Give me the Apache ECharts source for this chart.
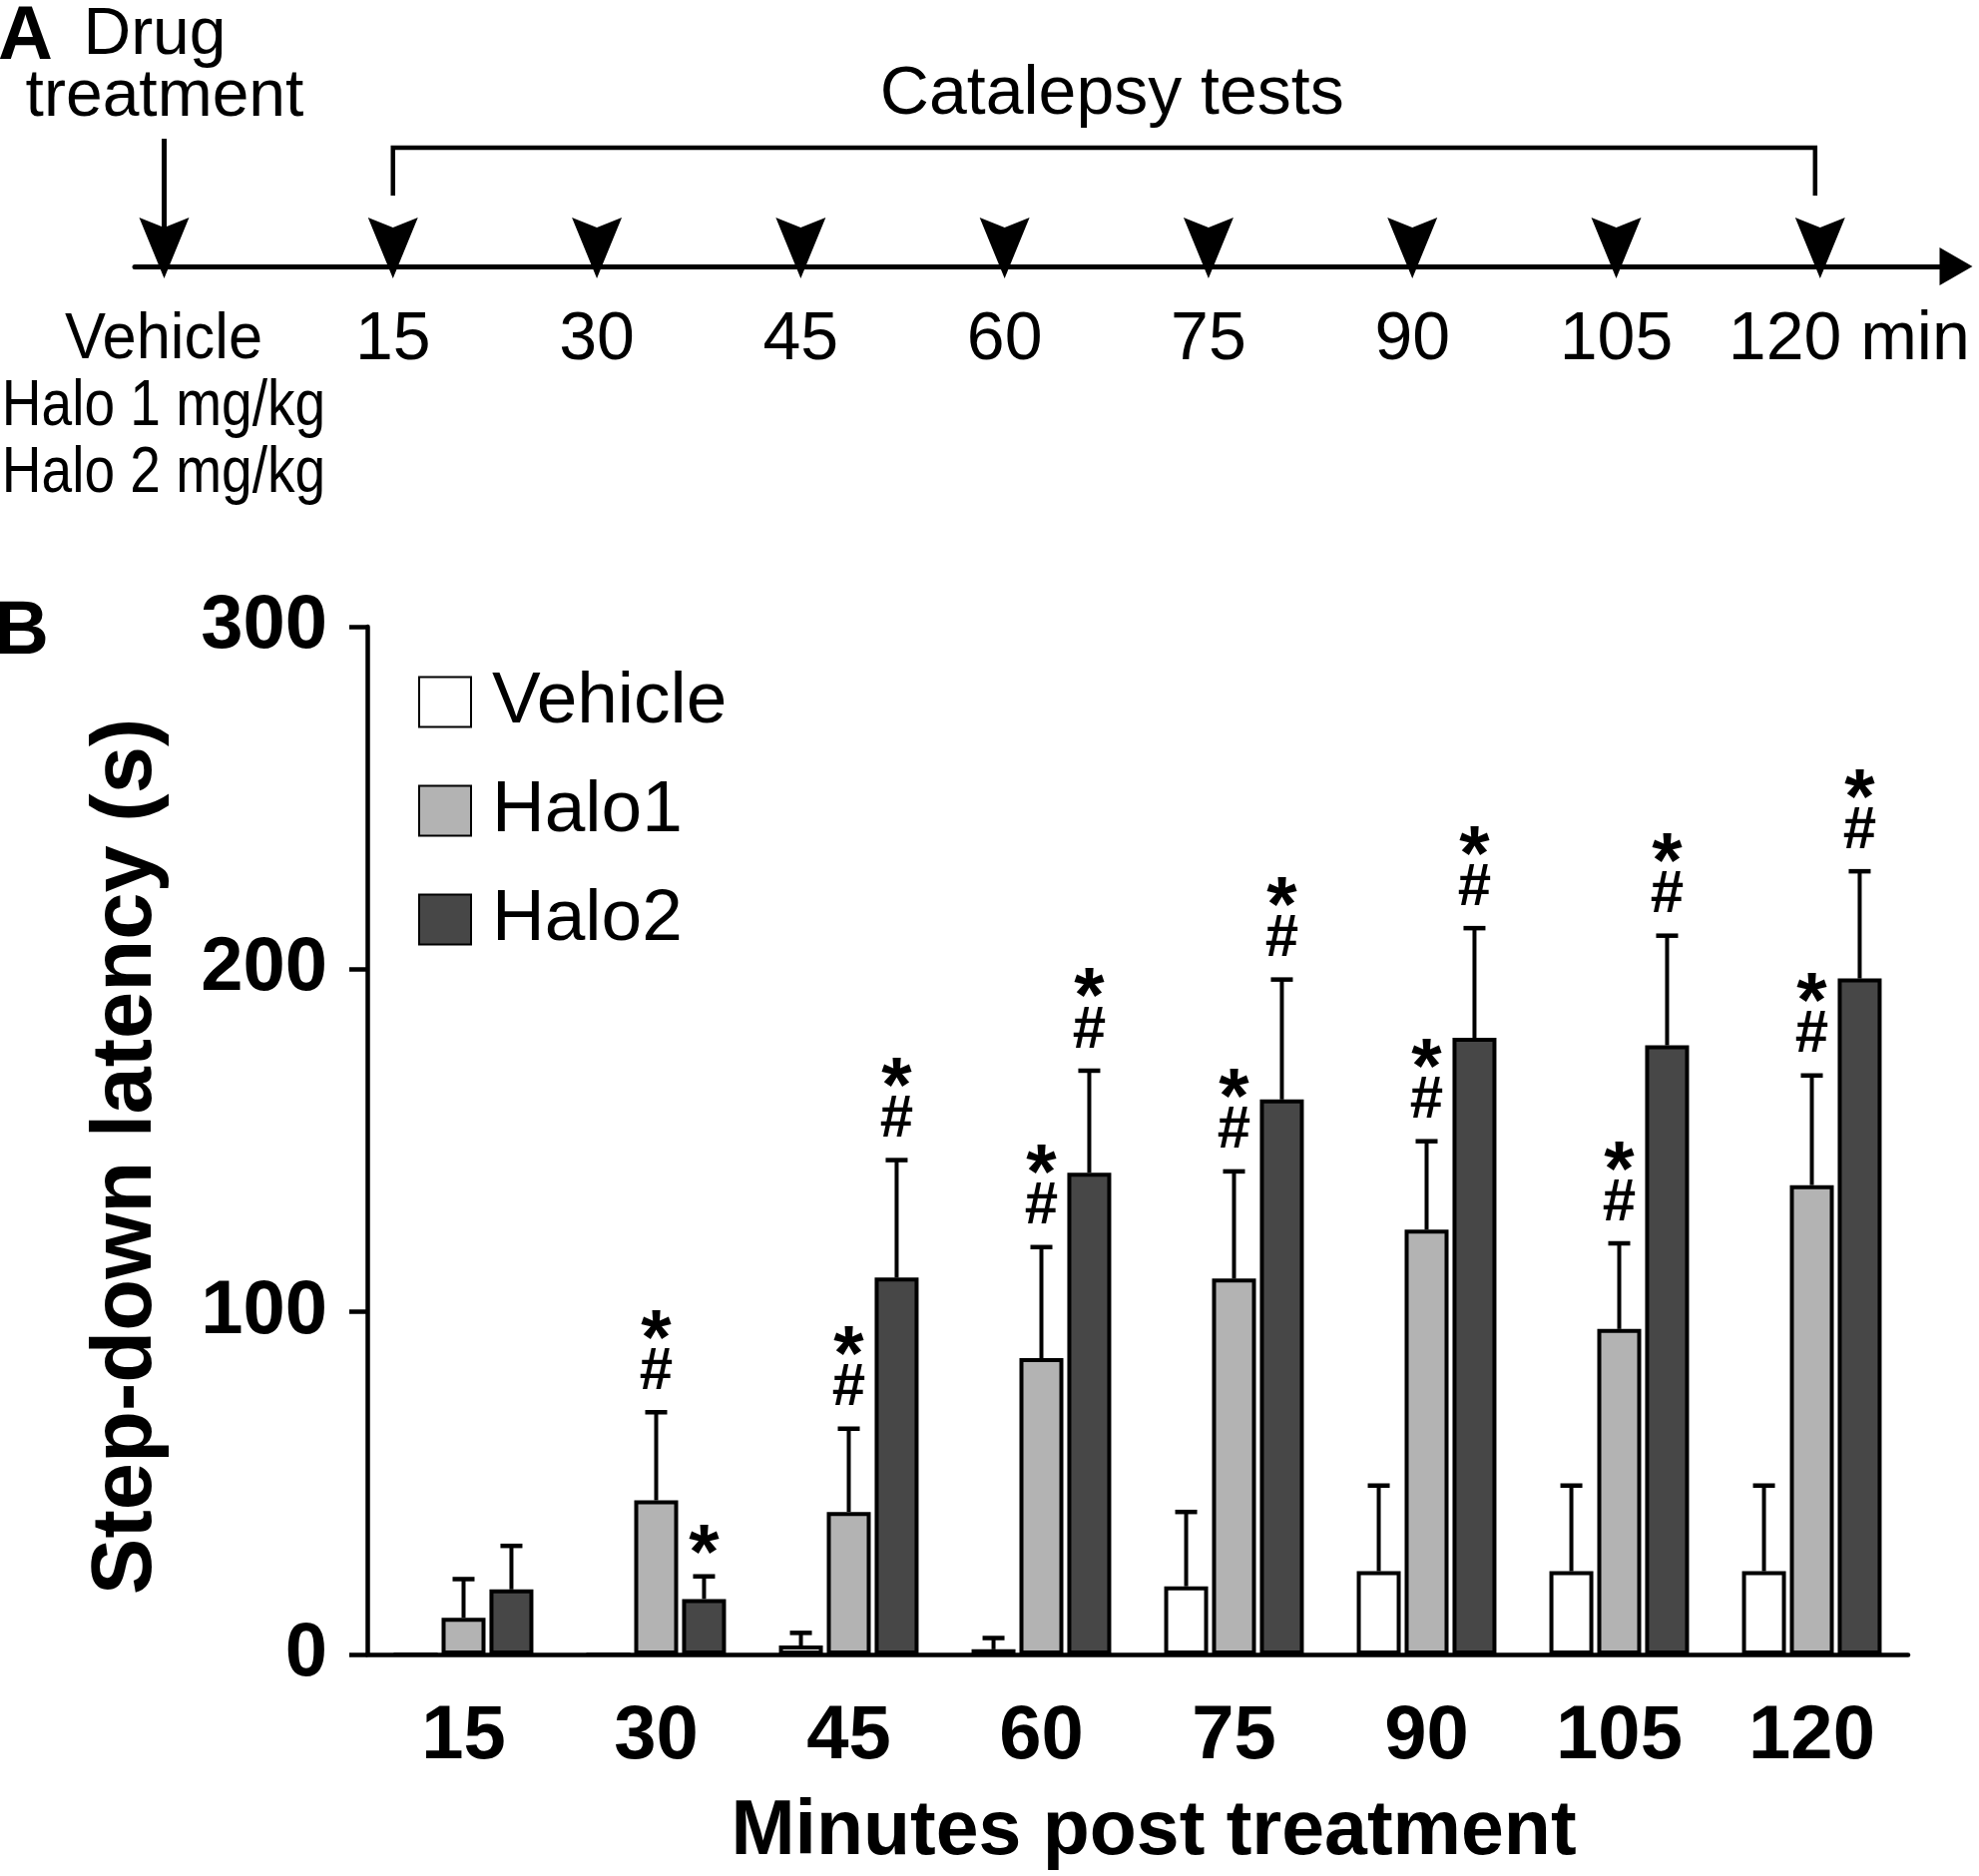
<!DOCTYPE html>
<html><head><meta charset="utf-8">
<script src="https://cdn.jsdelivr.net/npm/echarts@6/dist/echarts.min.js"></script>
<style>html,body{margin:0;padding:0;background:#fff}#c{width:1983px;height:1880px}</style>
</head><body><div id="c"></div>
<script>
// ---------- Panel B data ----------
const categories = ['15','30','45','60','75','90','105','120'];
const seriesNames = ['Vehicle','Halo1','Halo2'];
const vehicleMean = [0, 0, 2.6, 1.5, 19.9, 24.3, 24.3, 24.3];
const vehicleSem  = [0, 0, 3.7, 3.3, 21.7, 25.0, 25.0, 25.0];
const halo1Mean = [10.7, 45.0, 41.6, 86.5, 109.7, 124.0, 95.0, 137.0];
const halo1Sem  = [11.3, 25.7, 24.3, 32.4, 31.3, 25.8, 25.0, 32.0];
const halo2Mean = [19.0, 16.2, 110.0, 140.6, 162.0, 180.0, 177.8, 197.3];
const halo2Sem  = [12.7, 6.6, 34.3, 29.8, 35.0, 32.0, 32.0, 31.3];
const vehicleSig = ['', '', '', '', '', '', '', ''];
const halo1Sig = ['', '*#', '*#', '*#', '*#', '*#', '*#', '*#'];
const halo2Sig = ['', '*', '*#', '*#', '*#', '*#', '*#', '*#'];
const yMin = 0, yMax = 300, yStep = 100;

// ---------- Panel A data ----------
const testTimes = [15, 30, 45, 60, 75, 90, 105, 120];
const testLabels = ['15', '30', '45', '60', '75', '90', '105', '120 min'];
const drugTime = 0;
const groupLabels = ['Vehicle', 'Halo 1 mg/kg', 'Halo 2 mg/kg'];

// ---------- styling ----------
const FONT = "'Liberation Sans', Arial, Helvetica, sans-serif";
const colors = ['#ffffff', '#b3b3b3', '#474747'];
const BAR_W = 44, BAR_GAP = 0.09;
const STRIDE = BAR_W * (1 + BAR_GAP);
const offsets = [-STRIDE, 0, STRIDE];

const means = [vehicleMean, halo1Mean, halo2Mean];
const sems = [vehicleSem, halo1Sem, halo2Sem];
const sigs = [vehicleSig, halo1Sig, halo2Sig];

const chart = echarts.init(document.getElementById('c'), null, {renderer: 'canvas'});

const series = [];
seriesNames.forEach((name, k) => {
  series.push({
    type: 'bar', name: name, data: means[k],
    xAxisIndex: 0, yAxisIndex: 0,
    barWidth: BAR_W, barGap: (BAR_GAP * 100) + '%',
    itemStyle: {color: colors[k], borderColor: '#000', borderWidth: 4},
    z: 2
  });
});
seriesNames.forEach((name, k) => {
  series.push({
    type: 'custom', name: name + ' SEM',
    xAxisIndex: 0, yAxisIndex: 0, z: 3,
    data: categories.map((c, i) => [i, means[k][i], means[k][i] + sems[k][i]]),
    encode: {x: 0, y: [1, 2]},
    renderItem: function (params, api) {
      const i = api.value(0), m = api.value(1), t = api.value(2);
      const base = api.coord([i, m]);
      const top = api.coord([i, t]);
      const x = base[0] + offsets[k];
      const children = [];
      if (t > m) {
        children.push({type: 'line', shape: {x1: x, y1: base[1], x2: x, y2: top[1]},
          style: {stroke: '#000', lineWidth: 4}});
        children.push({type: 'line', shape: {x1: x - 11, y1: top[1], x2: x + 11, y2: top[1]},
          style: {stroke: '#000', lineWidth: 4.5}});
      }
      const s = sigs[k][params.dataIndex];
      const starFont = 'bold 78px ' + FONT;
      const hashFont = 'bold 60px ' + FONT;
      if (s.indexOf('#') >= 0) {
        children.push({type: 'text', style: {text: '#', x: x, y: top[1] - 40, font: hashFont,
          fill: '#000', align: 'center', verticalAlign: 'middle'}});
        if (s.indexOf('*') >= 0) {
          children.push({type: 'text', style: {text: '*', x: x, y: top[1] - 86 + 16, font: starFont,
            fill: '#000', align: 'center', verticalAlign: 'middle'}});
        }
      } else if (s.indexOf('*') >= 0) {
        children.push({type: 'text', style: {text: '*', x: x, y: top[1] - 35 + 16, font: starFont,
          fill: '#000', align: 'center', verticalAlign: 'middle'}});
      }
      return {type: 'group', children: children};
    }
  });
});

// Panel A: test arrowheads with labels
function arrowHead(x, y) {
  return {type: 'polygon', shape: {points: [[x - 25, y - 49], [x, y - 39], [x + 25, y - 49], [x, y + 12]]},
    style: {fill: '#000'}};
}
series.push({
  type: 'custom', name: 'tests', xAxisIndex: 1, yAxisIndex: 1, z: 5,
  data: testTimes.map(t => [t, 0]),
  renderItem: function (params, api) {
    const p = api.coord([api.value(0), api.value(1)]);
    const last = params.dataIndex === testTimes.length - 1;
    return {type: 'group', children: [
      arrowHead(p[0], p[1]),
      {type: 'text', style: {text: testLabels[params.dataIndex], x: p[0] + (last ? 29 : 0), y: p[1] + 74,
        font: '68px ' + FONT, fill: '#000', align: 'center', verticalAlign: 'middle'}}
    ]};
  }
});
// Panel A: drug arrow
series.push({
  type: 'custom', name: 'drug', xAxisIndex: 1, yAxisIndex: 1, z: 5,
  data: [[drugTime, 0]],
  renderItem: function (params, api) {
    const p = api.coord([api.value(0), 0]);
    const q = api.coord([api.value(0), 1]);
    const x = p[0] - 25;
    return {type: 'group', children: [
      {type: 'line', shape: {x1: x, y1: q[1], x2: x, y2: p[1] - 20}, style: {stroke: '#000', lineWidth: 5}},
      arrowHead(x, p[1])
    ]};
  }
});
// Panel A: bracket over catalepsy tests
series.push({
  type: 'custom', name: 'bracket', xAxisIndex: 1, yAxisIndex: 1, z: 5,
  data: [[testTimes[0], testTimes[testTimes.length - 1]]],
  renderItem: function (params, api) {
    const a = api.coord([api.value(0), 0]);
    const b = api.coord([api.value(1), 0]);
    const x1 = a[0], x2 = b[0] - 5, yTop = a[1] - 119, yDrop = a[1] - 71;
    return {type: 'group', children: [
      {type: 'polyline', shape: {points: [[x1, yDrop], [x1, yTop], [x2, yTop], [x2, yDrop]]},
        style: {stroke: '#000', lineWidth: 4.5, fill: null}},
      {type: 'text', style: {text: 'Catalepsy tests', x: (x1 + x2) / 2 + 8, y: a[1] - 172,
        font: '68px ' + FONT, fill: '#000', align: 'center', verticalAlign: 'middle'}}
    ]};
  }
});

const option = {
  animation: false,
  backgroundColor: '#fff',
  textStyle: {fontFamily: FONT},
  grid: [
    {left: 368, right: 71, top: 628, bottom: 221},
    {left: 135, right: 23, top: 11, height: 256}
  ],
  legend: {
    data: seriesNames, orient: 'vertical', left: 414, top: 662, icon: 'rect',
    itemWidth: 52, itemHeight: 50, itemGap: 36,
    textStyle: {fontSize: 73, color: '#000', fontFamily: FONT, padding: [0, 0, 0, 16]},
    selectedMode: false
  },
  xAxis: [
    {
      type: 'category', data: categories, gridIndex: 0,
      axisLine: {lineStyle: {color: '#000', width: 4.5}},
      axisTick: {alignWithLabel: true, length: 30, lineStyle: {color: '#000', width: 4}},
      axisLabel: {fontSize: 76, fontWeight: 'bold', color: '#000', margin: 45, fontFamily: FONT},
      name: 'Minutes post treatment', nameLocation: 'middle', nameGap: 140,
      nameTextStyle: {fontSize: 77, fontWeight: 'bold', color: '#000', fontFamily: FONT, padding: [0, 0, 0, 32]}
    },
    {
      type: 'value', gridIndex: 1, min: -4, max: 130,
      axisLine: {show: true, lineStyle: {color: '#000', width: 5}, symbol: ['none', 'triangle'], symbolSize: [38, 33]},
      axisTick: {show: false}, axisLabel: {show: false}, splitLine: {show: false}
    }
  ],
  yAxis: [
    {
      type: 'value', gridIndex: 0, min: yMin, max: yMax, interval: yStep,
      axisLine: {show: true, lineStyle: {color: '#000', width: 4.5}},
      axisTick: {show: true, length: 18, lineStyle: {color: '#000', width: 4.5}},
      axisLabel: {fontSize: 76, fontWeight: 'bold', color: '#000', margin: 40, fontFamily: FONT},
      splitLine: {show: false},
      name: 'Step-down latency (s)', nameLocation: 'middle', nameGap: 198,
      nameTextStyle: {fontSize: 85, fontWeight: 'bold', color: '#000', fontFamily: FONT, padding: [0, 32, 0, 0]}
    },
    {type: 'value', gridIndex: 1, min: 0, max: 2, show: false}
  ],
  graphic: [
    {type: 'text', left: -2, top: 0, style: {text: 'A', font: 'bold 76px ' + FONT, fill: '#000'}},
    {type: 'text', left: -6, top: 596, style: {text: 'B', font: 'bold 76px ' + FONT, fill: '#000'}},
    {type: 'text', x: 155, y: 36, style: {text: 'Drug', font: '66px ' + FONT, fill: '#000', align: 'center', verticalAlign: 'middle'}},
    {type: 'text', x: 165, y: 98, style: {text: 'treatment', font: '66px ' + FONT, fill: '#000', align: 'center', verticalAlign: 'middle'}},
    {type: 'text', x: 164, y: 341, scaleX: 0.96, style: {text: groupLabels[0], font: '64px ' + FONT, fill: '#000', align: 'center', verticalAlign: 'middle'}},
    {type: 'text', x: 164, y: 408, scaleX: 0.86, style: {text: groupLabels[1], font: '64px ' + FONT, fill: '#000', align: 'center', verticalAlign: 'middle'}},
    {type: 'text', x: 164, y: 475, scaleX: 0.86, style: {text: groupLabels[2], font: '64px ' + FONT, fill: '#000', align: 'center', verticalAlign: 'middle'}}
  ],
  series: series
};
chart.setOption(option);
</script>
</body></html>
